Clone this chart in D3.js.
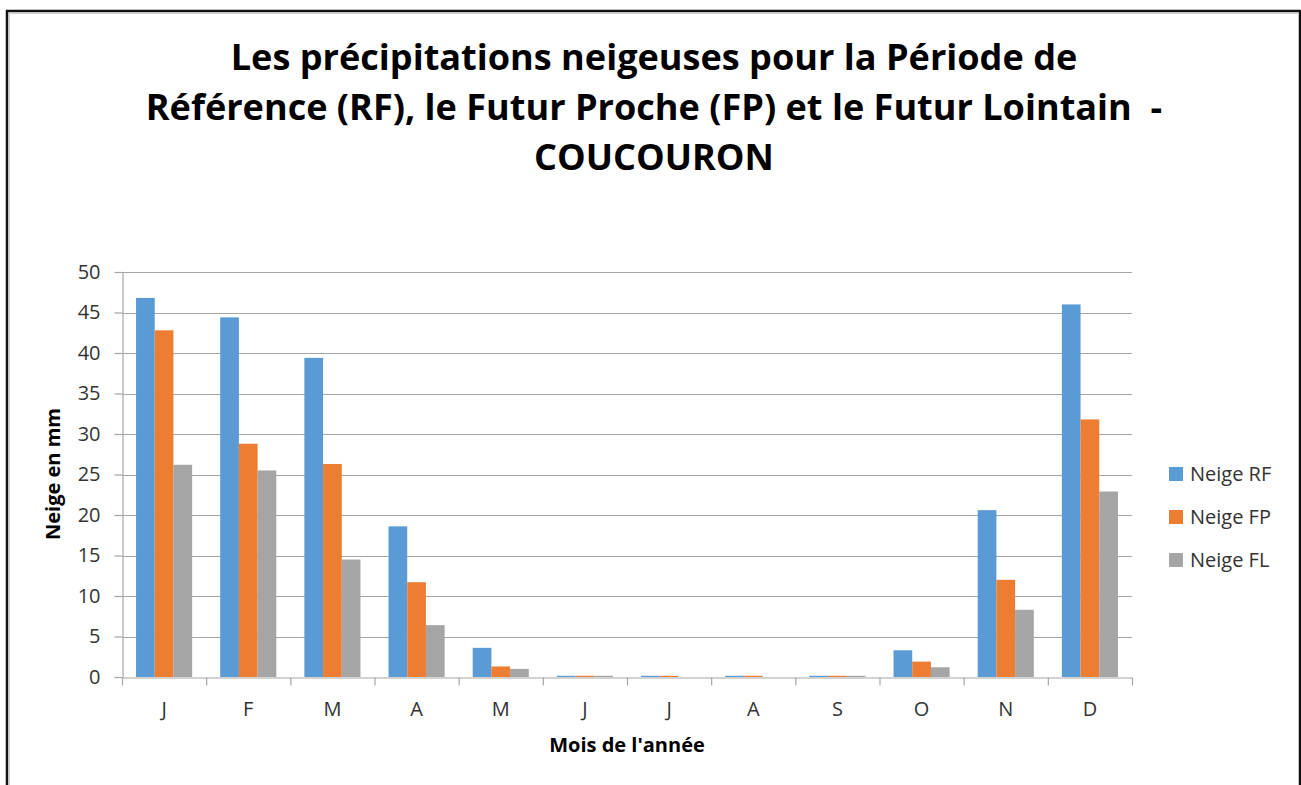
<!DOCTYPE html>
<html>
<head>
<meta charset="utf-8">
<script src="https://cdn.jsdelivr.net/npm/d3@7"></script>
<style>
  html, body { margin: 0; padding: 0; background: #fff; }
  svg { display: block; }
</style>
</head>
<body>
<div id="chart"></div>
<script>
// Data
const months = ['J', 'F', 'M', 'A', 'M', 'J', 'J', 'A', 'S', 'O', 'N', 'D'];
const neigeRF = [46.8, 44.4, 39.4, 18.6, 3.6, 0.15, 0.15, 0.15, 0.15, 3.3, 20.6, 46.0];
const neigeFP = [42.8, 28.8, 26.3, 11.7, 1.3, 0.15, 0.15, 0.15, 0.15, 1.9, 12.0, 31.8];
const neigeFL = [26.2, 25.5, 14.5, 6.4, 1.0, 0.15, 0, 0, 0.15, 1.2, 8.3, 22.9];
const seriesNames = ['Neige RF', 'Neige FP', 'Neige FL'];
const yTicks = [0, 5, 10, 15, 20, 25, 30, 35, 40, 45, 50];
const titleLines = [
    'Les précipitations neigeuses pour la Période de',
    'Référence (RF), le Futur Proche (FP) et le Futur Lointain  -',
    'COUCOURON'
];

const width = 1301;
const height = 785;
const colors = ['#5b9bd5', '#ed7d31', '#a5a5a5'];
const font = '"Open Sans", Calibri, sans-serif';

const svg = d3.select('#chart')
    .append('svg')
    .attr('width', width)
    .attr('height', height);

// Frame
svg.append('rect')
    .attr('x', 7).attr('y', 11)
    .attr('width', 1293).attr('height', 800)
    .attr('fill', '#fff')
    .attr('stroke', '#111')
    .attr('stroke-width', 2.5);
svg.append('path')
    .attr('d', 'M9.5,800V13.5H1298')
    .attr('fill', 'none')
    .attr('stroke', '#d0d0d0')
    .attr('stroke-width', 1);

// Title
const title = svg.append('g');
titleLines.forEach((line, i) => {
    title.append('text')
        .attr('x', 654)
        .attr('y', 70 + i * 50)
        .attr('text-anchor', 'middle')
        .style('font-family', font)
        .style('font-weight', 'bold')
        .style('font-size', '34px')
        .style('white-space', 'pre')
        .attr('fill', '#000')
        .text(line);
});
// fit title size to line 2 width
const t2 = title.selectAll('text').nodes()[1];
const w2 = t2.getComputedTextLength();
const titleSize = Math.min(37, 34 * 1017 / w2);
title.selectAll('text').style('font-size', titleSize + 'px');

// Plot area
const margin = { left: 122, right: 1132, top: 272, bottom: 677 };

const x = d3.scaleBand()
    .domain(d3.range(months.length))
    .range([margin.left, margin.right]);

const x1 = d3.scaleBand()
    .domain(d3.range(seriesNames.length))
    .range([0, x.bandwidth()])
    .paddingInner(0)
    .paddingOuter(0.75);

const y = d3.scaleLinear()
    .domain([0, 50])
    .range([margin.bottom, margin.top]);

// Gridlines
svg.append('g')
    .selectAll('line')
    .data(yTicks.filter(d => d > 0))
    .enter()
    .append('line')
    .attr('x1', margin.left)
    .attr('x2', margin.right)
    .attr('y1', d => Math.round(y(d)) + 0.5)
    .attr('y2', d => Math.round(y(d)) + 0.5)
    .attr('stroke', '#a6a6a6')
    .attr('stroke-width', 1.2);

// Bars
const series = [neigeRF, neigeFP, neigeFL];
const barsGroup = svg.append('g');
series.forEach((values, s) => {
    barsGroup.append('g')
        .selectAll('rect')
        .data(values)
        .enter()
        .append('rect')
        .attr('x', (d, i) => x(i) + x1(s))
        .attr('y', d => y(d))
        .attr('width', x1.bandwidth())
        .attr('height', d => y(0) - y(d))
        .attr('fill', colors[s]);
});

// Y axis
const yAxis = d3.axisLeft(y)
    .tickValues(yTicks)
    .tickSize(8)
    .tickSizeOuter(0)
    .tickPadding(14);

const yAxisG = svg.append('g')
    .attr('transform', `translate(${margin.left + 0.5},0)`)
    .call(yAxis);
yAxisG.select('.domain').attr('stroke', '#a6a6a6').attr('stroke-width', 1.2);
yAxisG.selectAll('.tick line').attr('stroke', '#a6a6a6').attr('stroke-width', 1.2);
yAxisG.selectAll('.tick text')
    .style('font-family', font)
    .style('font-size', '20px')
    .attr('fill', '#333');

// X axis
const xAxis = d3.axisBottom(d3.scaleLinear().domain([0, months.length]).range([margin.left, margin.right]))
    .tickValues(d3.range(months.length + 1))
    .tickSize(8)
    .tickSizeOuter(0)
    .tickFormat('');

const xAxisG = svg.append('g')
    .attr('transform', `translate(0,${margin.bottom + 0.5})`)
    .call(xAxis);
xAxisG.select('.domain').attr('stroke', '#a6a6a6').attr('stroke-width', 1.2);
xAxisG.selectAll('.tick line').attr('stroke', '#a6a6a6').attr('stroke-width', 1.2);

svg.append('g')
    .selectAll('text')
    .data(months)
    .enter()
    .append('text')
    .attr('x', (d, i) => x(i) + x.bandwidth() / 2)
    .attr('y', 716)
    .attr('text-anchor', 'middle')
    .style('font-family', font)
    .style('font-size', '20px')
    .attr('fill', '#333')
    .text(d => d);

// Axis titles
svg.append('text')
    .attr('x', 627)
    .attr('y', 752)
    .attr('text-anchor', 'middle')
    .style('font-family', font)
    .style('font-weight', 'bold')
    .style('font-size', '20px')
    .attr('fill', '#000')
    .text("Mois de l'année");

svg.append('text')
    .attr('transform', 'translate(60,474) rotate(-90)')
    .attr('text-anchor', 'middle')
    .style('font-family', font)
    .style('font-weight', 'bold')
    .style('font-size', '20px')
    .attr('fill', '#000')
    .text('Neige en mm');

// Legend
const legend = svg.append('g')
    .attr('transform', 'translate(1169,467)');
seriesNames.forEach((name, i) => {
    const g = legend.append('g').attr('transform', `translate(0,${i * 43})`);
    g.append('rect')
        .attr('width', 14)
        .attr('height', 14)
        .attr('fill', colors[i]);
    g.append('text')
        .attr('x', 21)
        .attr('y', 14)
        .style('font-family', font)
        .style('font-size', '20px')
        .attr('fill', '#333')
        .text(name);
});
</script>
</body>
</html>
